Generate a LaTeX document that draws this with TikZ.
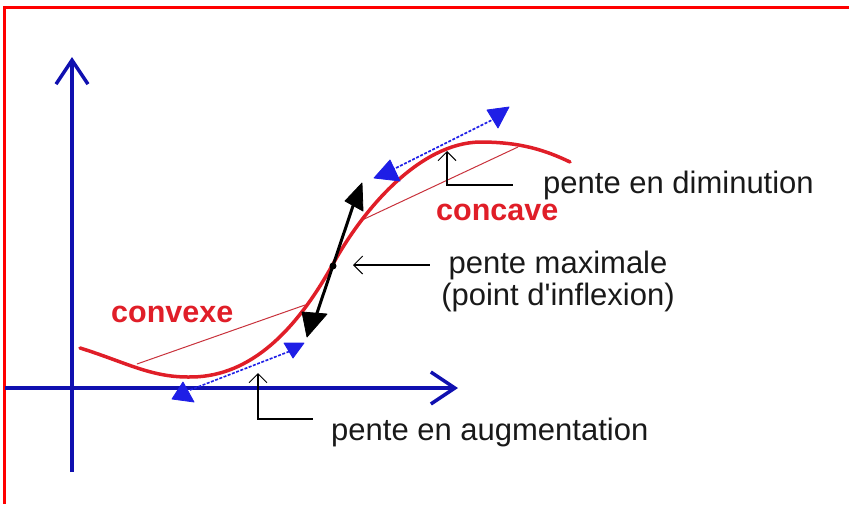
\documentclass[tikz,border=0pt]{standalone}
\usepackage{fontspec}
\setmainfont{Liberation Sans}[Ligatures=TeXOff]
\usetikzlibrary{arrows.meta}
\definecolor{axblue}{RGB}{16,16,176}
\definecolor{tanblue}{RGB}{30,30,230}
\definecolor{curvered}{RGB}{224,30,40}
\definecolor{chordred}{RGB}{200,50,60}
\definecolor{txt}{RGB}{25,25,25}
\tikzset{
  axis/.style={draw=axblue, line width=3.5pt, -{Straight Barb[length=24pt,width=32pt,line width=3.5pt]}},
  curve/.style={draw=curvered, line width=3.5pt, line join=round, line cap=round},
  chord/.style={draw=chordred, line width=1pt},
  tangent/.style={draw=tanblue, line width=1.6pt, dash pattern=on 3pt off 1.5pt},
  bluetri/.style={fill=tanblue, draw=tanblue, line width=0.8pt, line join=round},
  blacktri/.style={fill=black, draw=black, line width=0.8pt, line join=round},
  pointer/.style={draw=black, line width=1.1pt, {Straight Barb[length=9pt,width=18pt,line width=1pt]}-},
  label/.style={text=txt, font=\fontsize{31}{32}\selectfont, inner sep=0pt},
  redlabel/.style={text=curvered, font=\fontsize{30.5}{32}\selectfont\bfseries, inner sep=0pt}
}
\begin{document}
\begin{tikzpicture}[x=1pt,y=-1pt]
\useasboundingbox (0,0) rectangle (849,504);
% red frame
\draw[red, line width=3pt] (849,7) -- (4,7) -- (4,504);
% axes
\coordinate (yb) at (72,472);
\coordinate (yt) at (72,57);
\coordinate (xl) at (5,388);
\coordinate (xr) at (458,388);
\draw[axis] (yb) -- (yt);
\draw[axis] (xl) -- (xr);
% chords
\coordinate (c1a) at (137,364);
\coordinate (c1b) at (305,305);
\coordinate (c2a) at (360,221);
\coordinate (c2b) at (518,147);
\draw[chord] (c1a) -- (c1b);
\draw[chord] (c2a) -- (c2b);
% tangents (blue dashed)
\coordinate (t1a) at (190,390);
\coordinate (t1b) at (293,350);
\coordinate (t2a) at (388,172);
\coordinate (t2b) at (498,117);
\draw[tangent] (t1a) -- (t1b);
\draw[tangent] (t2a) -- (t2b);
% curve
\draw[curve] (80,348) .. controls (125,362) and (150,377) .. (188,377)
  .. controls (245,378) and (292,338) .. (333,264)
  .. controls (364,208) and (420,143) .. (480,142)
  .. controls (520,142) and (545,150) .. (570,162);
% blue triangles
\fill[bluetri] (183,382) -- (172,399) -- (194,402) -- cycle;
\fill[bluetri] (284,343) -- (304,343) -- (293,358) -- cycle;
\fill[bluetri] (390,160) -- (374,178) -- (400,181) -- cycle;
\fill[bluetri] (487,110) -- (509,107) -- (498,128) -- cycle;
% black tangent at inflection
\coordinate (ba) at (355,200);
\coordinate (bb) at (314,322);
\draw[black, line width=3pt] (ba) -- (bb);
\fill[blacktri] (362,183) -- (345,201) -- (363,211) -- cycle;
\fill[blacktri] (302,312) -- (327,314) -- (307,337) -- cycle;
\node[circle, fill=black, minimum size=7pt, inner sep=0pt] (infl) at (333,266) {};
% pointers
\coordinate (p1tip) at (258,373);
\coordinate (p1corner) at (258,419);
\coordinate (p1end) at (313,419);
\draw[pointer] (p1tip) -- (p1corner) -- (p1end);
\coordinate (p2tip) at (447,151);
\coordinate (p2corner) at (447,185);
\coordinate (p2end) at (513,185);
\draw[pointer] (p2tip) -- (p2corner) -- (p2end);
\coordinate (p3tip) at (353,265);
\coordinate (p3end) at (430,265);
\draw[pointer] (p3tip) -- (p3end);
% labels
\node[label, anchor=base west] (ldim) at (543,193) {pente en diminution};
\node[label, anchor=base west] (laug) at (331,440) {pente en augmentation};
\node[label, anchor=base] (lmax1) at (558,273) {pente maximale};
\node[label, anchor=base] (lmax2) at (558,305) {(point d'inflexion)};
\node[redlabel, anchor=base west] (lcvx) at (111,322) {convexe};
\node[redlabel, anchor=base west] (lccv) at (436,220) {concave};
\end{tikzpicture}
\end{document}
